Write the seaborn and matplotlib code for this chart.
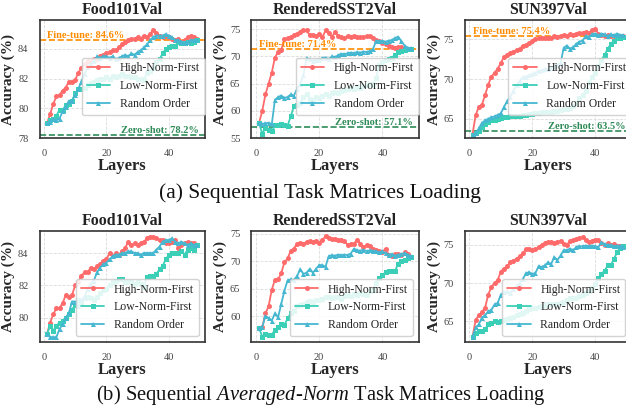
import matplotlib
matplotlib.use("Agg")
import matplotlib.pyplot as plt
from matplotlib.ticker import MultipleLocator
import seaborn as sns

# --- dados ---
layers = list(range(1, 50))
methods = ["High-Norm-First", "Low-Norm-First", "Random Order"]
datasets = ["Food101Val", "RenderedSST2Val", "SUN397Val"]
fine_tune = [84.6, 71.4, 75.4]
zero_shot = [78.2, 57.1, 63.5]

# (a) Sequential Task Matrices Loading
food_seq_high = [79.0, 79.6, 80.3, 80.8, 80.9, 81.2, 81.4, 81.8, 81.8, 81.9,
                 82.4, 82.7, 83.0, 83.2, 83.2, 83.3, 83.3, 83.5, 83.6, 83.7,
                 83.8, 83.9, 83.9, 84.1, 84.3, 84.5, 84.6, 84.7, 84.7, 84.8,
                 84.7, 84.9, 84.8, 85.0, 85.3, 85.1, 84.9, 84.8, 84.9, 84.8,
                 84.7, 84.6, 84.7, 84.5, 84.6, 84.8, 84.9, 84.8, 84.7]
food_seq_low = [79.0, 79.2, 79.3, 79.5, 79.9, 79.9, 80.2, 80.3, 80.5, 81.0,
                81.3, 81.3, 81.4, 81.6, 81.7, 81.8, 81.9, 82.0, 82.0, 82.1,
                82.0, 82.2, 82.1, 82.2, 82.3, 82.2, 82.2, 82.1, 82.1, 82.0,
                82.0, 81.9, 82.4, 82.5, 82.7, 83.1, 83.3, 83.7, 84.0, 84.1,
                84.2, 84.2, 84.5, 84.4, 84.4, 84.5, 84.4, 84.5, 84.6]
food_seq_rand = [79.0, 79.1, 79.3, 79.2, 79.3, 79.8, 80.1, 80.5, 80.5, 80.9,
                 81.3, 81.8, 82.3, 82.8, 83.0, 83.2, 83.5, 83.4, 83.5, 83.5,
                 83.4, 83.5, 83.3, 83.4, 83.5, 83.6, 83.5, 83.7, 83.6, 83.8,
                 83.9, 84.1, 84.3, 84.6, 84.8, 84.9, 84.9, 84.9, 85.0, 84.9,
                 84.8, 84.6, 84.6, 84.5, 84.4, 84.5, 84.6, 84.6, 84.6]

sst_seq_high = [57.8, 60.0, 63.0, 65.0, 67.0, 69.8, 70.8, 71.2, 73.2, 73.3,
                73.5, 74.0, 74.2, 74.5, 74.8, 74.8, 73.9, 74.0, 73.8, 74.2,
                73.5, 74.8, 74.3, 73.6, 74.5, 73.8, 73.5, 73.4, 73.8, 73.6,
                73.7, 73.6, 73.6, 73.5, 73.7, 73.8, 73.3, 73.0, 72.9, 72.5,
                72.3, 72.0, 71.8, 71.6, 71.8, 71.7, 71.5, 71.4, 71.4]
sst_seq_low = [57.8, 55.8, 56.8, 56.5, 56.2, 57.3, 57.4, 57.5, 57.3, 57.2,
               59.0, 60.8, 61.0, 61.5, 62.5, 63.0, 62.2, 62.0, 62.5, 62.3,
               62.8, 63.0, 62.8, 63.2, 63.5, 63.3, 63.6, 63.8, 64.0, 64.2,
               64.0, 64.3, 64.2, 64.5, 64.8, 65.0, 64.8, 66.0, 68.5, 69.0,
               69.3, 69.5, 69.8, 70.3, 70.8, 71.0, 71.2, 71.3, 71.4]
sst_seq_rand = [57.8, 57.6, 57.7, 57.8, 57.5, 62.0, 62.5, 62.8, 62.4, 62.5,
                63.0, 62.8, 64.0, 65.0, 66.5, 69.7, 69.5, 69.2, 69.4, 69.3,
                69.7, 69.8, 69.5, 70.0, 69.9, 70.2, 70.5, 70.4, 70.6, 70.7,
                70.6, 70.8, 70.7, 70.9, 70.8, 71.0, 71.3, 72.9, 72.8, 72.9,
                72.7, 72.9, 73.0, 73.4, 73.6, 72.8, 72.0, 71.6, 71.5]

sun_seq_high = [63.1, 65.5, 66.5, 66.8, 68.0, 69.3, 70.3, 70.8, 71.3, 72.0,
                72.8, 73.0, 73.3, 73.4, 73.7, 73.8, 74.2, 74.3, 74.5, 74.8,
                75.0, 75.1, 75.2, 75.1, 75.2, 75.2, 75.4, 75.3, 75.4, 75.5,
                75.4, 75.6, 75.5, 75.7, 75.8, 75.8, 75.9, 75.8, 76.1, 76.3,
                75.7, 75.5, 75.4, 75.5, 75.4, 75.4, 75.4, 75.4, 75.4]
sun_seq_low = [63.0, 63.2, 63.5, 64.0, 64.4, 64.6, 64.8, 64.9, 65.0, 65.1,
               65.2, 65.2, 65.3, 65.3, 65.4, 65.4, 65.5, 65.5, 65.6, 65.6,
               65.7, 65.7, 65.8, 65.8, 65.9, 65.9, 66.0, 66.0, 66.1, 66.2,
               66.3, 66.4, 66.6, 67.0, 67.6, 68.0, 68.5, 69.5, 70.3, 70.8,
               71.6, 72.4, 73.0, 73.8, 74.4, 74.8, 75.1, 75.2, 75.3]
sun_seq_rand = [63.0, 63.2, 63.8, 64.5, 64.8, 65.0, 65.2, 65.3, 65.5, 65.7,
                66.5, 67.2, 67.8, 68.5, 69.2, 69.8, 70.2, 70.3, 70.5, 70.6,
                70.8, 71.0, 71.1, 71.2, 71.3, 71.4, 71.6, 71.8, 72.0, 73.9,
                74.2, 73.8, 74.0, 74.4, 74.7, 74.8, 75.4, 75.3, 75.6, 75.7,
                75.5, 75.7, 75.6, 75.4, 75.6, 75.5, 75.7, 75.5, 75.5]

# (b) Sequential Averaged-Norm Task Matrices Loading
food_avg_high = [79.0, 79.7, 80.2, 80.6, 80.6, 80.9, 81.4, 81.3, 81.4, 82.0,
                 82.2, 82.6, 82.8, 82.8, 83.1, 83.0, 83.2, 83.3, 83.5, 83.6,
                 84.0, 83.8, 84.0, 83.9, 84.1, 84.3, 84.7, 84.5, 84.6, 84.5,
                 84.6, 84.7, 84.9, 85.0, 85.0, 84.9, 84.8, 84.8, 84.6, 84.6,
                 84.7, 84.8, 84.3, 84.5, 84.6, 84.7, 84.6, 84.6, 84.5]
food_avg_low = [79.0, 79.5, 79.2, 79.5, 79.7, 79.8, 80.0, 80.2, 80.5, 80.8,
                81.1, 81.0, 81.2, 81.3, 81.2, 81.1, 81.3, 81.5, 81.7, 81.8,
                82.0, 82.2, 82.3, 82.4, 82.4, 82.2, 82.2, 82.2, 82.1, 82.2,
                82.1, 81.9, 82.5, 82.6, 82.6, 82.7, 83.0, 83.2, 83.6, 83.9,
                84.0, 84.0, 84.0, 84.1, 83.9, 84.2, 84.3, 84.2, 84.5]
food_avg_rand = [79.0, 78.8, 78.8, 78.8, 79.3, 79.6, 80.0, 80.3, 81.0, 81.0,
                 80.7, 81.1, 81.3, 81.8, 82.1, 82.3, 82.8, 83.1, 83.3, 83.4,
                 83.6, 83.8, 83.9, 83.9, 84.0, 84.0, 84.1, 84.1, 84.0, 84.0,
                 83.9, 84.0, 84.0, 84.0, 84.0, 84.2, 84.4, 84.7, 84.8, 84.8,
                 84.9, 84.7, 84.6, 84.7, 84.6, 84.5, 84.6, 84.5, 84.5]

sst_avg_high = [57.8, 58.0, 60.5, 61.8, 64.8, 66.6, 66.7, 67.8, 69.8, 70.5,
                71.9, 72.3, 73.2, 73.3, 73.2, 73.5, 73.7, 73.5, 73.6, 73.4,
                73.8, 74.6, 74.2, 74.0, 74.0, 73.8, 73.9, 73.6, 73.0, 73.1,
                73.2, 73.9, 73.2, 72.6, 72.9, 72.7, 72.3, 72.0, 71.8, 71.7,
                72.3, 71.2, 71.0, 71.3, 71.4, 71.2, 71.6, 71.3, 70.8]
sst_avg_low = [57.8, 56.3, 56.8, 56.5, 56.6, 57.5, 58.0, 58.6, 58.4, 59.6,
               60.5, 61.0, 61.8, 62.0, 62.2, 62.5, 62.8, 62.6, 63.0, 62.9,
               63.2, 63.5, 63.4, 63.3, 63.5, 63.4, 63.2, 63.6, 63.8, 63.7,
               64.0, 63.9, 64.2, 64.0, 63.8, 64.5, 64.8, 66.1, 67.0, 67.5,
               68.0, 68.2, 68.2, 68.3, 69.5, 70.1, 70.2, 70.5, 70.8]
sst_avg_rand = [57.8, 58.0, 60.0, 59.7, 59.2, 60.5, 59.8, 62.2, 64.6, 66.5,
                66.7, 66.6, 67.3, 68.5, 67.7, 67.9, 68.6, 67.9, 68.6, 69.3,
                69.3, 69.0, 70.9, 71.1, 71.0, 71.2, 71.1, 71.2, 71.1, 71.4,
                72.3, 72.0, 71.9, 72.1, 71.8, 72.0, 71.9, 71.8, 71.6, 71.8,
                71.5, 71.2, 71.3, 71.0, 71.2, 71.3, 71.5, 71.2, 70.9]

sun_avg_high = [63.0, 65.2, 65.8, 66.2, 66.8, 68.5, 69.5, 70.0, 70.4, 71.5,
                71.9, 72.2, 72.7, 72.9, 73.2, 73.5, 73.9, 74.4, 74.5, 74.3,
                74.4, 74.7, 75.0, 75.2, 75.4, 75.3, 75.2, 75.4, 75.5, 75.1,
                75.0, 75.5, 75.6, 75.7, 75.9, 76.0, 75.6, 75.3, 75.5, 75.6,
                75.6, 75.2, 75.0, 75.2, 75.0, 75.1, 74.9, 74.9, 74.8]
sun_avg_low = [63.0, 63.5, 63.7, 63.8, 64.0, 64.6, 64.8, 65.0, 64.9, 65.0,
               65.2, 65.3, 65.5, 65.6, 65.8, 66.0, 66.1, 66.3, 66.6, 66.7,
               66.8, 66.9, 67.0, 67.1, 67.2, 67.3, 67.3, 67.3, 67.4, 67.5,
               67.8, 68.0, 68.0, 68.1, 68.3, 68.5, 68.7, 69.0, 69.3, 69.9,
               70.7, 71.2, 71.6, 72.3, 72.3, 73.2, 74.0, 74.6, 74.8]
sun_avg_rand = [63.0, 64.2, 64.6, 65.5, 65.8, 66.3, 66.5, 67.2, 67.4, 68.5,
                68.8, 68.9, 68.7, 69.2, 69.6, 70.0, 70.5, 71.3, 71.4, 71.2,
                71.3, 72.2, 72.1, 72.3, 72.7, 72.5, 73.4, 73.0, 73.6, 74.3,
                74.3, 74.5, 74.3, 74.7, 74.8, 74.8, 74.9, 74.8, 74.9, 74.8,
                74.7, 75.3, 75.1, 75.0, 75.0, 74.8, 74.9, 74.8, 74.7]

seq_series = [(food_seq_high, food_seq_low, food_seq_rand),
              (sst_seq_high, sst_seq_low, sst_seq_rand),
              (sun_seq_high, sun_seq_low, sun_seq_rand)]
avg_series = [(food_avg_high, food_avg_low, food_avg_rand),
              (sst_avg_high, sst_avg_low, sst_avg_rand),
              (sun_avg_high, sun_avg_low, sun_avg_rand)]

# --- estilo ---
sns.set_theme(style="whitegrid")
plt.rcParams["font.family"] = ["Liberation Serif", "DejaVu Serif"]
plt.rcParams["mathtext.fontset"] = "custom"
plt.rcParams["mathtext.rm"] = "Liberation Serif"
plt.rcParams["mathtext.it"] = "Liberation Serif:italic"

colors = ["#FF6B6B", "#3CCFB8", "#45B7D1"]
markers = ["o", "s", "^"]

W, H = 626, 412
fig = plt.figure(figsize=(W / 100, H / 100), dpi=100)

cols_px = [(39.5, 204.5), (251.5, 418.5), (465, 631)]
rows_px = [(20, 138), (231, 342)]

ylims = [[(78.0, 85.95), (55.0, 76.7), (62.6, 77.4)],
         [(78.5, 85.36), (55.3, 75.5), (62.3, 76.8)]]
ysteps = [2, 5, 5]


def desenhar_painel(ax, series, title, ylim, ystep, ft=None, zs=None, top=True):
    for vals, name, c, m in zip(series, methods, colors, markers):
        sns.lineplot(x=layers, y=vals, ax=ax, color=c, marker=m, markersize=3.6,
                     markeredgewidth=0, linewidth=1.3, label=name)
    ax.set_xlim(-1.4, 51.4)
    ax.set_ylim(*ylim)
    ax.set_xticks([0, 20, 40])
    ax.yaxis.set_major_locator(MultipleLocator(ystep))
    ax.grid(True, linestyle="--", color="#dcdcdc", linewidth=0.6)
    for sp in ax.spines.values():
        sp.set_edgecolor("#333333")
        sp.set_linewidth(1.2)
    ax.tick_params(labelsize=7.5, colors="#444444", pad=2)
    ax.set_title(title, fontsize=11.4, fontweight="bold", color="#222222", pad=4)
    ax.set_xlabel("Layers", fontsize=12, fontweight="bold", labelpad=0)
    ax.set_ylabel("Accuracy (%)", fontsize=11, fontweight="bold", labelpad=2)
    if ft is not None:
        ax.axhline(ft, color="#FF8C00", linestyle="--", linewidth=1.2, zorder=1)
        ax.text(1, ft, f"Fine-tune: {ft}%", color="#FF8C00", fontsize=7.5,
                fontweight="bold", ha="left", va="bottom")
    if zs is not None:
        ax.axhline(zs, color="#2E8B57", linestyle="--", linewidth=1.2, zorder=1)
        ax.text(49.6, zs, f"Zero-shot: {zs}%", color="#2E8B57", fontsize=7.5,
                fontweight="bold", ha="right", va="bottom")
    if top:
        leg = ax.legend(loc="lower right", bbox_to_anchor=(1.0, 0.195),
                        borderaxespad=0, fontsize=8.5, framealpha=0.85)
    else:
        leg = ax.legend(loc="lower right", fontsize=8.5, framealpha=0.85)
    leg.get_frame().set_edgecolor("#cccccc")


for r, (y0, y1) in enumerate(rows_px):
    for c, (x0, x1) in enumerate(cols_px):
        ax = fig.add_axes([x0 / W, 1 - y1 / H, (x1 - x0) / W, (y1 - y0) / H])
        if r == 0:
            desenhar_painel(ax, seq_series[c], datasets[c], ylims[r][c], ysteps[c],
                            ft=fine_tune[c], zs=zero_shot[c], top=True)
        else:
            desenhar_painel(ax, avg_series[c], datasets[c], ylims[r][c], ysteps[c],
                            top=False)

fig.text(320 / W, 1 - 198 / H, "(a) Sequential Task Matrices Loading",
         ha="center", va="baseline", fontsize=15.4, color="#111111")
fig.text(321 / W, 1 - 400 / H,
         r"(b) Sequential $\mathit{Averaged}$-$\mathit{Norm}$ Task Matrices Loading",
         ha="center", va="baseline", fontsize=14.8, color="#111111")

fig.savefig("out.png", dpi=100)
